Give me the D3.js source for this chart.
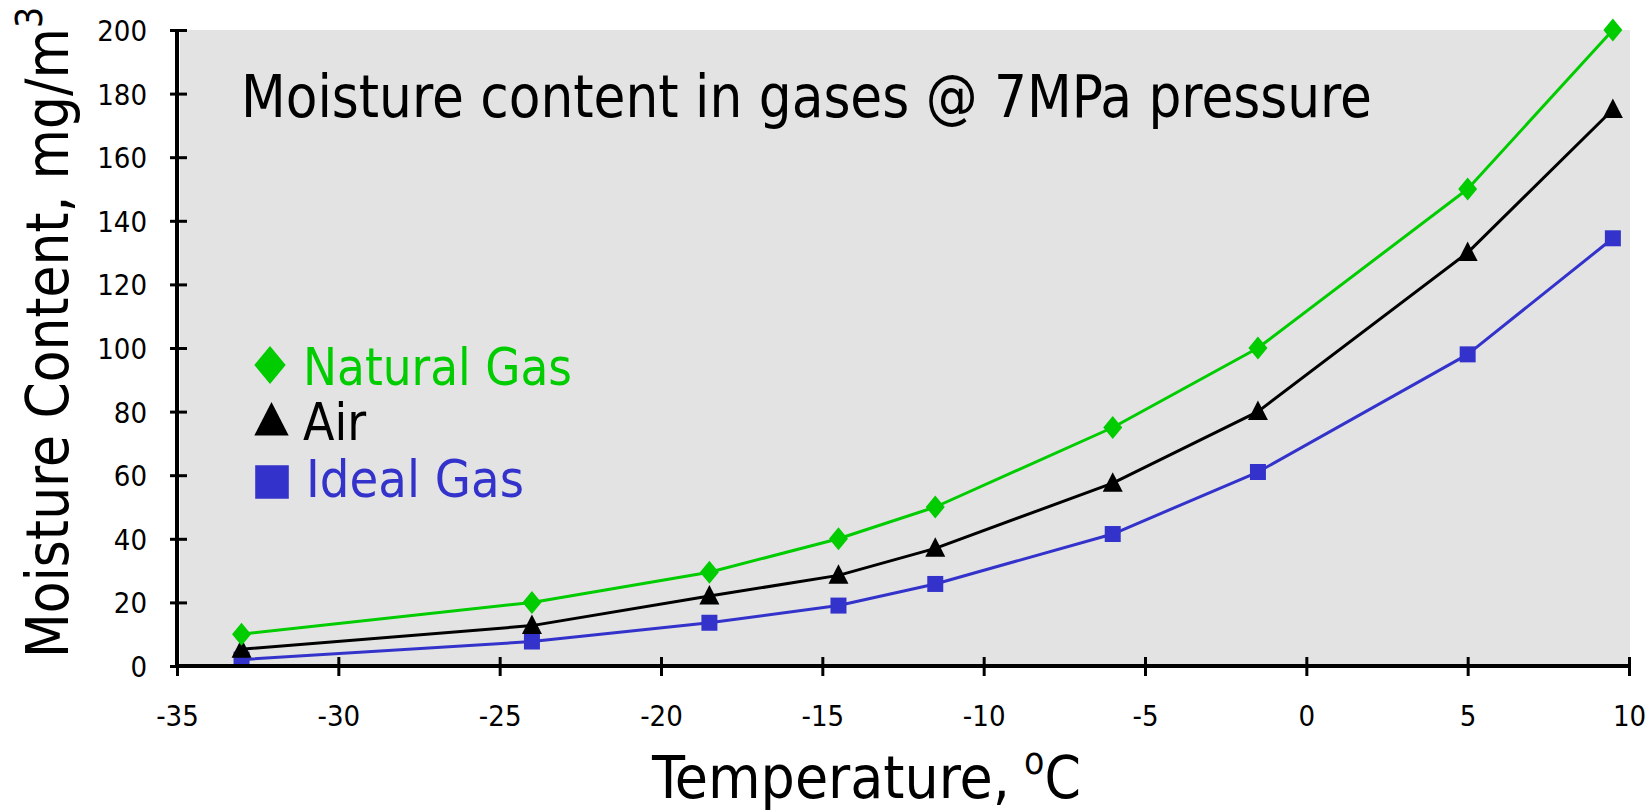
<!DOCTYPE html>
<html>
<head>
<meta charset="utf-8">
<script src="https://cdn.jsdelivr.net/npm/d3@7"></script>
<style>
  html, body { margin: 0; padding: 0; background: #ffffff; }
  svg { display: block; }
  text { font-family: "DejaVu Sans Condensed", "DejaVu Sans", sans-serif; }
</style>
</head>
<body>
<svg id="chart" width="1650" height="812"></svg>
<script>
// ---- data ----
const temperatures = [-33, -24, -18.5, -14.5, -11.5, -6, -1.5, 5, 9.5];
const naturalGas   = [10, 20, 29.5, 40, 50, 75, 100, 150, 200];
const air          = [5.3, 12.7, 22, 28.5, 37, 57.5, 80, 130, 175];
const idealGas     = [2, 7.7, 13.6, 19, 25.8, 41.5, 61, 98, 134.5];
const xTickValues  = [-35, -30, -25, -20, -15, -10, -5, 0, 5, 10];
const yTickValues  = [0, 20, 40, 60, 80, 100, 120, 140, 160, 180, 200];
const seriesNames  = ["Natural Gas", "Air", "Ideal Gas"];

// ---- layout ----
const svg = d3.select("#chart");
const plotLeft = 177, plotRight = 1629, plotTop = 30, plotBottom = 666;

const x = d3.scaleLinear().domain([-35, 10]).range([plotLeft, plotRight]);
const y = d3.scaleLinear().domain([0, 200]).range([plotBottom, plotTop]);

const colors = { "Natural Gas": "#00cc00", "Air": "#000000", "Ideal Gas": "#3333cc" };
const seriesValues = { "Natural Gas": naturalGas, "Air": air, "Ideal Gas": idealGas };

// marker shapes (centred at origin)
const markerPath = {
  "Natural Gas": s => `M0,${-11.5*s}L${9.5*s},0L0,${11.5*s}L${-9.5*s},0Z`,
  "Air":         s => `M0,${-11*s}L${10*s},${8.5*s}L${-10*s},${8.5*s}Z`,
  "Ideal Gas":   s => `M${-8*s},${-8*s}H${8*s}V${8*s}H${-8*s}Z`
};

// plot background
svg.append("rect")
  .attr("x", x(-35) + 3).attr("y", y(200))
  .attr("width", x(10) - x(-35) - 2).attr("height", y(0) - y(200))
  .attr("fill", "#e3e3e3");

// ---- title ----
svg.append("text")
  .attr("x", 241).attr("y", 117)
  .attr("font-size", 58)
  .attr("textLength", 1131).attr("lengthAdjust", "spacingAndGlyphs")
  .attr("fill", "#000")
  .text("Moisture content in gases @ 7MPa pressure");

// ---- series lines ----
const line = d3.line().x((d, i) => x(temperatures[i])).y(d => y(d));
seriesNames.slice().reverse().forEach(name => {
  svg.append("path")
    .datum(seriesValues[name])
    .attr("d", line)
    .attr("fill", "none")
    .attr("stroke", colors[name])
    .attr("stroke-width", 3)
    .attr("stroke-linejoin", "round");
});
seriesNames.slice().reverse().forEach(name => {
  svg.append("g").selectAll("path")
    .data(seriesValues[name])
    .join("path")
    .attr("transform", (d, i) => `translate(${x(temperatures[i])},${y(d)})`)
    .attr("d", markerPath[name](1))
    .attr("fill", colors[name]);
});

// ---- axes ----
const plainFormat = d => String(d);
const yAxis = d3.axisLeft(y).tickValues(yTickValues).tickSize(7).tickPadding(0).tickFormat(plainFormat);
const gy = svg.append("g").attr("transform", `translate(${plotLeft},0)`).call(yAxis);
gy.select(".domain").attr("d", `M0,${plotTop}V${plotBottom + 2}`).attr("stroke", "#000").attr("stroke-width", 4);
gy.selectAll(".tick line").attr("x1", 10).attr("x2", -7).attr("stroke", "#000").attr("stroke-width", 3);
gy.selectAll(".tick text")
  .attr("x", -30).attr("dy", "0.36em")
  .attr("font-size", 29)
  .attr("font-family", "'DejaVu Sans Condensed', 'DejaVu Sans', sans-serif")
  .attr("fill", "#000");

const xAxis = d3.axisBottom(x).tickValues(xTickValues).tickSize(9).tickPadding(0).tickFormat(plainFormat);
const gx = svg.append("g").attr("transform", `translate(0,${plotBottom})`).call(xAxis);
gx.select(".domain").attr("d", `M${plotLeft - 2},0H${plotRight + 2}`).attr("stroke", "#000").attr("stroke-width", 4);
gx.selectAll(".tick line").attr("y1", -9).attr("y2", 10).attr("stroke", "#000").attr("stroke-width", 3);
gx.selectAll(".tick text")
  .attr("y", 60).attr("dy", 0)
  .attr("font-size", 29)
  .attr("font-family", "'DejaVu Sans Condensed', 'DejaVu Sans', sans-serif")
  .attr("fill", "#000");

// ---- axis titles ----
const yTitle = svg.append("text")
  .attr("transform", "translate(68,658) rotate(-90)")
  .attr("font-size", 59)
  .attr("fill", "#000");
yTitle.append("tspan").attr("textLength", 630).attr("lengthAdjust", "spacingAndGlyphs").text("Moisture Content, mg/m");
yTitle.append("tspan").attr("font-size", 37).attr("dy", -26).text("3");

const xTitle = svg.append("text")
  .attr("x", 652).attr("y", 798)
  .attr("font-size", 58)
  .attr("fill", "#000");
xTitle.append("tspan").attr("textLength", 358).attr("lengthAdjust", "spacingAndGlyphs").text("Temperature,");
xTitle.append("tspan").attr("font-size", 37).attr("dx", 14).attr("dy", -24).text("o");
xTitle.append("tspan").attr("dy", 24).text("C");

// ---- legend ----
const legendItems = [
  { name: "Natural Gas", mx: 270, my: 365, tx: 303, ty: 385, w: 269, scale: 1.65 },
  { name: "Air",         mx: 271.5, my: 421, tx: 303, ty: 440, w: 63,  scale: 1.72 },
  { name: "Ideal Gas",   mx: 272, my: 482, tx: 306, ty: 497, w: 218, scale: 2.1 }
];
legendItems.forEach(it => {
  svg.append("path")
    .attr("transform", `translate(${it.mx},${it.my})`)
    .attr("d", markerPath[it.name](it.scale))
    .attr("fill", colors[it.name]);
  svg.append("text")
    .attr("x", it.tx).attr("y", it.ty)
    .attr("font-size", 52)
    .attr("textLength", it.w).attr("lengthAdjust", "spacingAndGlyphs")
    .attr("fill", colors[it.name])
    .text(it.name);
});
</script>
</body>
</html>
